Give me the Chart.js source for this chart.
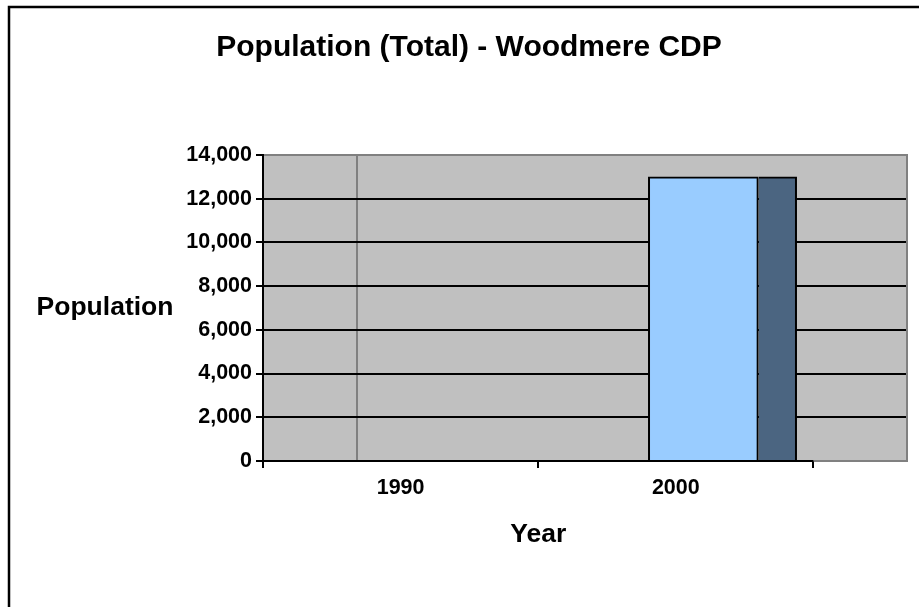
<!DOCTYPE html>
<html>
<head>
<meta charset="utf-8">
<title>Population (Total) - Woodmere CDP</title>
<script src="https://cdn.jsdelivr.net/npm/chart.js@4/dist/chart.umd.min.js"></script>
<style>
  html, body { margin: 0; padding: 0; background: #fff; }
  #wrap { position: relative; width: 919px; height: 607px; }
</style>
</head>
<body>
<div id="wrap"><canvas id="chart"></canvas></div>
<script>
// Census years and the two population series.
var years       = [ '1990', '2000' ];
var populationA = [ null, 13000 ];
var populationB = [ null, 13000 ];
var yTicks      = [ 0, 2000, 4000, 6000, 8000, 10000, 12000, 14000 ];

var chartTitle = 'Population (Total) - Woodmere CDP';
var yTitle     = 'Population';
var xTitle     = 'Year';

// Look and layout.
var FONT     = '"Liberation Sans", Arial, sans-serif';
var PLOT_BG  = '#c0c0c0';
var FRAME    = '#808080';
var X_MAX    = 2.34;  // plot area runs on past the last category
var ODD_LINE = 0.34;  // stray vertical gridline in the original
var BAR_A = { offset: 0.10, width: 110, color: '#99ccff' };
var BAR_B = { offset: 0.37, width: 38, color: '#4b6581' };

function points( values, offset ) {
	return values.map( function ( v, i ) {
		return { x: i + 0.5 + offset, y: v };
	} );
}

// Frame, axis lines and the texts Excel placed by hand.
var excelFrame = {
	id: 'excelFrame',
	beforeDraw: function ( chart ) {
		var a = chart.chartArea, ctx = chart.ctx;
		ctx.save();
		ctx.fillStyle = PLOT_BG;
		ctx.fillRect( a.left, a.top, a.right - a.left, a.bottom - a.top );
		ctx.restore();
	},
	afterDraw: function ( chart ) {
		var a = chart.chartArea, ctx = chart.ctx;
		var xs = chart.scales.x;
		var xEnd = xs.getPixelForValue( years.length );
		var xStart = xs.getPixelForValue( 0 );
		ctx.save();
		ctx.lineWidth = 2;
		ctx.strokeStyle = FRAME;
		ctx.beginPath();
		ctx.moveTo( a.left, a.top );
		ctx.lineTo( a.right, a.top );
		ctx.lineTo( a.right, a.bottom );
		ctx.lineTo( xEnd, a.bottom );
		ctx.stroke();

		ctx.strokeStyle = '#000';
		ctx.beginPath();
		ctx.moveTo( xStart, a.top - 1 );
		ctx.lineTo( xStart, a.bottom );
		ctx.lineTo( xEnd, a.bottom );
		ctx.stroke();

		// outer chart border (right and bottom fall outside the picture)
		ctx.lineWidth = 2.5;
		ctx.beginPath();
		ctx.moveTo( 9, chart.height + 5 );
		ctx.lineTo( 9, 7 );
		ctx.lineTo( chart.width + 5, 7 );
		ctx.stroke();

		ctx.fillStyle = '#000';
		ctx.textAlign = 'center';
		ctx.textBaseline = 'middle';
		ctx.font = 'bold 30px ' + FONT;
		ctx.fillText( chartTitle, 469, 48 );
		ctx.font = 'bold 26.5px ' + FONT;
		ctx.fillText( yTitle, 105, ( a.top + a.bottom ) / 2 );
		ctx.fillText( xTitle, ( xStart + xEnd ) / 2, 535 );
		ctx.restore();
	}
};

new Chart( document.getElementById( 'chart' ), {
	type: 'bar',
	data: {
		datasets: [
			{
				label: 'A',
				data: points( populationA, BAR_A.offset ),
				backgroundColor: BAR_A.color,
				borderColor: '#000',
				borderWidth: 2,
				barThickness: BAR_A.width,
				grouped: false
			},
			{
				label: 'B',
				data: points( populationB, BAR_B.offset ),
				backgroundColor: BAR_B.color,
				borderColor: '#000',
				borderWidth: { top: 2, right: 2, bottom: 0, left: 0 },
				barThickness: BAR_B.width,
				grouped: false
			}
		]
	},
	options: {
		responsive: true,
		maintainAspectRatio: false,
		animation: false,
		layout: { padding: { top: 155, right: 12, bottom: 0, left: 0 } },
		plugins: {
			legend: { display: false },
			title: { display: false },
			tooltip: { enabled: false }
		},
		scales: {
			x: {
				type: 'linear',
				offset: false,
				min: 0,
				max: X_MAX,
				afterBuildTicks: function ( scale ) {
					var t = [];
					years.forEach( function ( y, i ) {
						t.push( i, i + 0.5 );
					} );
					t.push( years.length, ODD_LINE );
					t.sort( function ( p, q ) { return p - q; } );
					scale.ticks = t.map( function ( v ) { return { value: v }; } );
				},
				afterFit: function ( scale ) { scale.height = 146; },
				border: { display: false },
				grid: {
					offset: false,
					lineWidth: 2,
					tickLength: 7,
					color: function ( c ) {
						return c.tick && c.tick.value === ODD_LINE ? FRAME : 'rgba(0,0,0,0)';
					},
					tickColor: function ( c ) {
						return c.tick && Number.isInteger( c.tick.value ) ? '#000' : 'rgba(0,0,0,0)';
					}
				},
				ticks: {
					autoSkip: false,
					maxRotation: 0,
					padding: 7,
					color: '#000',
					font: { family: FONT, size: 21.5, weight: 'bold' },
					callback: function ( v ) {
						var i = Math.floor( v );
						return Math.abs( v - i - 0.5 ) < 1e-6 ? years[ i ] : '';
					}
				}
			},
			y: {
				min: 0,
				max: 14000,
				afterBuildTicks: function ( scale ) {
					scale.ticks = yTicks.map( function ( v ) { return { value: v }; } );
				},
				afterFit: function ( scale ) { scale.width = 263; },
				border: { display: false },
				grid: {
					lineWidth: 2,
					tickLength: 7,
					tickColor: '#000',
					color: function ( c ) {
						var v = c.tick ? c.tick.value : 0;
						return ( v === 0 || v === 14000 ) ? 'rgba(0,0,0,0)' : '#000';
					}
				},
				ticks: {
					padding: 4,
					color: '#000',
					font: { family: FONT, size: 21.5, weight: 'bold' },
					callback: function ( v ) { return v.toLocaleString( 'en-US' ); }
				}
			}
		}
	},
	plugins: [ excelFrame ]
} );
</script>
</body>
</html>
